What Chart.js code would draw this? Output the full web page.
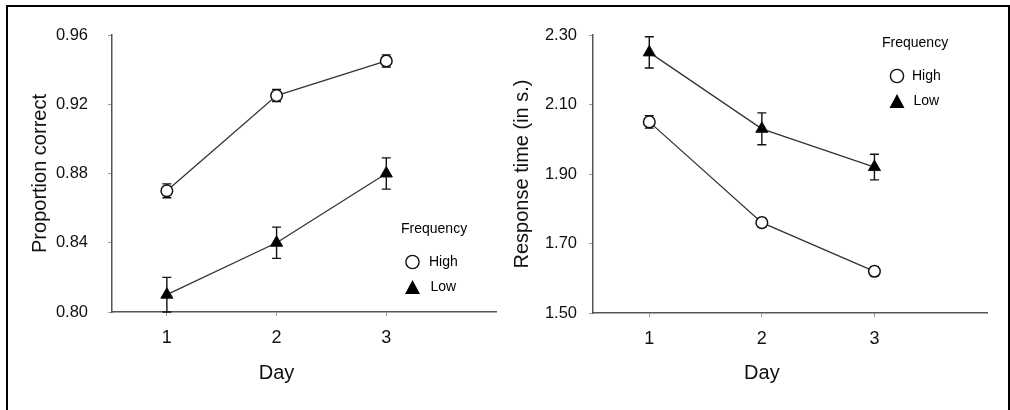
<!DOCTYPE html>
<html>
<head>
<meta charset="utf-8">
<script src="https://cdn.jsdelivr.net/npm/chart.js@4.4.1/dist/chart.umd.min.js"></script>
<style>
  html, body { margin: 0; padding: 0; background: #fff; }
  body { width: 1010px; height: 410px; position: relative; overflow: hidden; }
  .frame {
    position: absolute; left: 6px; top: 5px; width: 1004px; height: 420px;
    box-sizing: border-box; border: 2px solid #000; border-bottom: none;
  }
  canvas { position: absolute; top: 0; }
  #accuracy { left: 0; }
  #rt { left: 505px; }
</style>
</head>
<body>
<div class="frame"></div>
<canvas id="accuracy" width="505" height="410"></canvas>
<canvas id="rt" width="505" height="410"></canvas>
<script>
// Day on the x axis
const days = [1, 2, 3];

// Proportion correct by word frequency
const accHigh = [0.870, 0.925, 0.945];
const accHighErr = [0.004, 0.0035, 0.0035];
const accLow = [0.810, 0.840, 0.880];
const accLowErr = [0.010, 0.009, 0.009];
const accTicks = [0.80, 0.84, 0.88, 0.92, 0.96];

// Response time (s) by word frequency
const rtHigh = [2.05, 1.76, 1.62];
const rtHighErr = [0.018, 0.013, 0.013];
const rtLow = [2.25, 2.03, 1.92];
const rtLowErr = [0.045, 0.046, 0.037];
const rtTicks = [1.50, 1.70, 1.90, 2.10, 2.30];

const FONT = '"Liberation Sans", Arial, Helvetica, sans-serif';
const NARROW = '"Liberation Sans Narrow", "Arial Narrow", ' + FONT;
Chart.defaults.font.family = FONT;
Chart.defaults.color = '#111';

// vertical error bars with small caps, drawn before the markers so circles sit on top
const errorBars = {
  id: 'errorBars',
  beforeDatasetsDraw(chart) {
    const ctx = chart.ctx;
    const yScale = chart.scales.y;
    ctx.save();
    ctx.strokeStyle = '#111';
    ctx.lineWidth = 1.4;
    chart.data.datasets.forEach((ds, i) => {
      chart.getDatasetMeta(i).data.forEach((pt, j) => {
        const v = ds.data[j].y;
        const e = ds.errors[j];
        const top = yScale.getPixelForValue(v + e);
        const bot = yScale.getPixelForValue(v - e);
        ctx.beginPath();
        ctx.moveTo(pt.x, top); ctx.lineTo(pt.x, bot);
        ctx.moveTo(pt.x - 4.5, top); ctx.lineTo(pt.x + 4.5, top);
        ctx.moveTo(pt.x - 4.5, bot); ctx.lineTo(pt.x + 4.5, bot);
        ctx.stroke();
      });
    });
    ctx.restore();
  }
};

// "Day" sits under the middle tick rather than the middle of the axis
const dayTitle = {
  id: 'dayTitle',
  afterDraw(chart) {
    const ctx = chart.ctx;
    ctx.save();
    ctx.font = '20px ' + FONT;
    ctx.fillStyle = '#111';
    ctx.textAlign = 'center';
    ctx.textBaseline = 'middle';
    ctx.fillText('Day', chart.scales.x.getPixelForValue(2), 373);
    ctx.restore();
  }
};

// small "Frequency" key with an open circle and a filled triangle
const freqLegend = {
  id: 'freqLegend',
  afterDraw(chart, args, o) {
    const ctx = chart.ctx;
    ctx.save();
    ctx.font = '14px ' + FONT;
    ctx.fillStyle = '#000';
    ctx.textAlign = 'left';
    ctx.textBaseline = 'middle';
    ctx.fillText('Frequency', o.x, o.y);

    chart.data.datasets.forEach((ds, i) => {
      const cy = o.y + 33 + i * 25.5;
      const cx = o.x + o.mx;
      ctx.beginPath();
      if (ds.pointStyle === 'circle') {
        ctx.arc(cx, cy, 6.6, 0, Math.PI * 2);
        ctx.fillStyle = '#fff';
        ctx.fill();
        ctx.lineWidth = 1.4;
        ctx.strokeStyle = '#111';
        ctx.stroke();
      } else {
        ctx.moveTo(cx, cy - 7.5);
        ctx.lineTo(cx + 7.5, cy + 6.5);
        ctx.lineTo(cx - 7.5, cy + 6.5);
        ctx.closePath();
        ctx.fillStyle = '#000';
        ctx.fill();
      }
      ctx.fillStyle = '#000';
      ctx.fillText(ds.label, o.x + o.tx + (ds.pointStyle === 'circle' ? 0 : 1.5), cy);
    });
    ctx.restore();
  }
};

function series(label, values, errors, open) {
  return {
    label: label,
    data: days.map((d, i) => ({ x: d, y: values[i] })),
    errors: errors,
    borderColor: '#333',
    borderWidth: 1.3,
    pointStyle: open ? 'circle' : 'triangle',
    pointRadius: open ? 5.8 : 7,
    pointBorderWidth: open ? 1.5 : 1,
    pointBackgroundColor: open ? '#fff' : '#000',
    pointBorderColor: '#111',
    tension: 0
  };
}

function makeChart(id, opts) {
  return new Chart(document.getElementById(id), {
    type: 'line',
    data: { datasets: opts.datasets },
    options: {
      responsive: false,
      animation: false,
      devicePixelRatio: 1,
      layout: { padding: { top: 35, right: opts.padRight, left: 0, bottom: 0 } },
      plugins: {
        legend: { display: false },
        tooltip: { enabled: false },
        freqLegend: opts.legend
      },
      scales: {
        x: {
          type: 'linear',
          min: 0.5,
          max: 4,
          afterBuildTicks: s => { s.ticks = days.map(v => ({ value: v })); },
          afterFit: s => { s.height = opts.xHeight; },
          ticks: { font: { size: 18 }, color: '#111', padding: 11, callback: v => String(v) },
          grid: { drawOnChartArea: false, tickLength: 4, color: '#999' },
          border: { color: '#555', width: 1.5 }
        },
        y: {
          min: opts.yTicks[0],
          max: opts.yTicks[opts.yTicks.length - 1],
          afterBuildTicks: s => { s.ticks = opts.yTicks.map(v => ({ value: v })); },
          afterFit: s => { s.width = opts.yWidth; },
          ticks: {
            font: { size: 16.5, family: NARROW },
            color: '#111',
            padding: opts.yPad,
            callback: v => v.toFixed(2)
          },
          grid: { drawOnChartArea: false, tickLength: 4, color: '#999' },
          border: { color: '#555', width: 1.5 },
          title: {
            display: true,
            text: opts.yTitle,
            font: { size: 20 },
            color: '#111',
            padding: { top: opts.titlePad, bottom: 0 }
          }
        }
      }
    },
    plugins: [errorBars, dayTitle, freqLegend]
  });
}

makeChart('accuracy', {
  datasets: [
    series('High', accHigh, accHighErr, true),
    series('Low', accLow, accLowErr, false)
  ],
  yTicks: accTicks,
  yTitle: 'Proportion correct',
  yWidth: 112,
  yPad: 20,
  titlePad: 28,
  xHeight: 98,
  padRight: 9,
  legend: { x: 401, y: 229, mx: 11.5, tx: 28 }
});

makeChart('rt', {
  datasets: [
    series('High', rtHigh, rtHighErr, true),
    series('Low', rtLow, rtLowErr, false)
  ],
  yTicks: rtTicks,
  yTitle: 'Response time (in s.)',
  yWidth: 88,
  yPad: 12,
  titlePad: 5,
  xHeight: 97,
  padRight: 23,
  legend: { x: 377, y: 43, mx: 15, tx: 30 }
});
</script>
</body>
</html>
